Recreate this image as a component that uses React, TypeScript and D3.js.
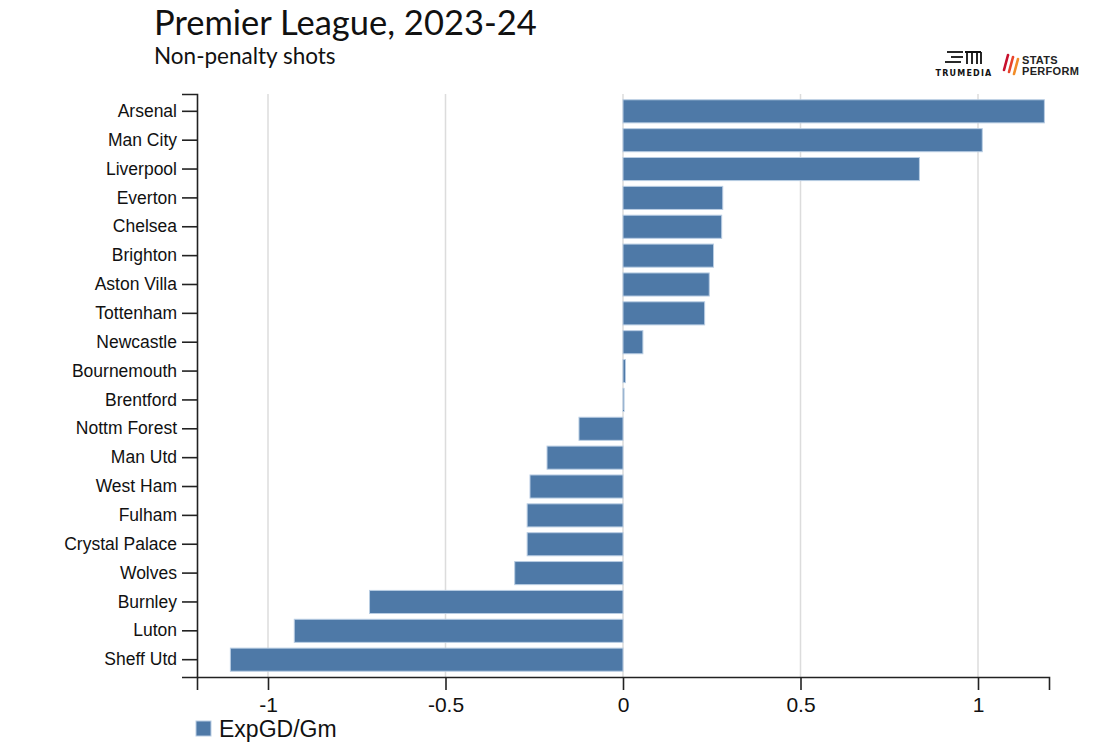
import { useRef, useEffect } from 'react'
import * as d3 from 'd3'

const teams = [
  'Arsenal', 'Man City', 'Liverpool', 'Everton', 'Chelsea', 'Brighton', 'Aston Villa',
  'Tottenham', 'Newcastle', 'Bournemouth', 'Brentford', 'Nottm Forest', 'Man Utd',
  'West Ham', 'Fulham', 'Crystal Palace', 'Wolves', 'Burnley', 'Luton', 'Sheff Utd',
]
const expGD = [
  1.187, 1.012, 0.835, 0.281, 0.278, 0.255, 0.243,
  0.230, 0.056, 0.007, 0.003, -0.124, -0.214,
  -0.262, -0.270, -0.270, -0.305, -0.714, -0.926, -1.106,
]
const xTicks = [-1, -0.5, 0, 0.5, 1]
const xDomain: [number, number] = [-1.2, 1.2]

const BAR = '#4e79a7'
const BAR_EDGE = '#b9cde3'
const SANS = '"Liberation Sans", Arial, sans-serif'

export default function App() {
  const svgRef = useRef<SVGSVGElement | null>(null)

  useEffect(() => {
    if (!svgRef.current) return
    const svg = d3.select(svgRef.current)
    svg.selectAll('*').remove()

    const left = 197, right = 1049, top = 94, bottom = 677
    const x = d3.scaleLinear().domain(xDomain).range([left, right])
    const y = d3.scaleBand<string>().domain(teams).range([top, bottom]).padding(0.2)

    // gridlines
    svg.append('g').selectAll('line').data(xTicks).join('line')
      .attr('x1', d => x(d)).attr('x2', d => x(d))
      .attr('y1', top).attr('y2', bottom)
      .attr('stroke', '#dcdcdc').attr('stroke-width', 1.5)

    // bars
    svg.append('g').selectAll('rect').data(teams).join('rect')
      .attr('x', (_, i) => Math.min(x(0), x(expGD[i])))
      .attr('width', (_, i) => Math.abs(x(expGD[i]) - x(0)))
      .attr('y', d => y(d)!)
      .attr('height', y.bandwidth())
      .attr('fill', BAR).attr('stroke', BAR_EDGE).attr('stroke-width', 1)

    // x axis
    const gx = svg.append('g').attr('transform', `translate(0,${bottom})`)
      .call(d3.axisBottom(x).tickValues(xTicks).tickFormat(d => String(d)).tickSize(13).tickSizeOuter(13).tickPadding(7))
    gx.select('.domain').attr('stroke', '#222').attr('stroke-width', 1.6)
    gx.selectAll('.tick line').attr('stroke', '#222').attr('stroke-width', 1.6)
    gx.selectAll('text').attr('font-family', SANS)
      .attr('font-size', '21px').attr('fill', '#111')

    // y axis
    const gy = svg.append('g').attr('transform', `translate(${left},0)`)
      .call(d3.axisLeft(y).tickSize(15).tickSizeOuter(15).tickPadding(5))
    gy.select('.domain').attr('stroke', '#222').attr('stroke-width', 1.6)
    gy.selectAll('.tick line').attr('stroke', '#222').attr('stroke-width', 1.6)
    gy.selectAll('text').attr('font-family', SANS)
      .attr('font-size', '17.5px').attr('fill', '#111')

    // legend
    const lg = svg.append('g').attr('transform', 'translate(196,721)')
    lg.append('rect').attr('width', 15).attr('height', 15)
      .attr('fill', BAR).attr('stroke', BAR_EDGE).attr('stroke-width', 1)
    lg.append('text').attr('x', 23).attr('y', 15.5)
      .attr('font-family', SANS)
      .attr('font-size', '23px').attr('fill', '#111').text('ExpGD/Gm')

    // titles
    svg.append('text').attr('x', 154).attr('y', 35)
      .attr('font-family', 'Lato, sans-serif').attr('font-size', '34.5px').attr('fill', '#111')
      .text('Premier League, 2023-24')
    svg.append('text').attr('x', 154).attr('y', 64)
      .attr('font-family', 'Lato, sans-serif').attr('font-size', '22.5px').attr('fill', '#111')
      .text('Non-penalty shots')

    // TruMedia logo
    const tm = svg.append('g')
    const bars: [number, number, number][] = [[947, 963, 52], [951, 963, 57], [945, 961, 62]]
    bars.forEach(([a, b, yy]) => tm.append('line').attr('x1', a).attr('x2', b).attr('y1', yy).attr('y2', yy)
      .attr('stroke', '#111').attr('stroke-width', 1.8))
    tm.append('path').attr('d', 'M965,52 H981 M967,52 V64 M972,52 V64 M977,52 V64 M981,52 V64')
      .attr('fill', 'none').attr('stroke', '#111').attr('stroke-width', 1.8)
    tm.append('text').attr('x', 964).attr('y', 76).attr('text-anchor', 'middle')
      .attr('font-family', '"DejaVu Sans", sans-serif').attr('font-weight', 'bold')
      .attr('font-size', '8px').attr('letter-spacing', '1.2px').attr('fill', '#111').text('TRUMEDIA')

    // Stats Perform logo
    const sp = svg.append('g')
    const slashes: [number, string][] = [[1004, '#c8102e'], [1009, '#e8452c'], [1014, '#f28c28']]
    slashes.forEach(([sx, c], i) => sp.append('line')
      .attr('x1', sx + 4).attr('y1', 55 + i * 2).attr('x2', sx).attr('y2', 74 - (2 - i) * 2)
      .attr('stroke', c).attr('stroke-width', 2.6).attr('stroke-linecap', 'round'))
    sp.append('text').attr('x', 1022).attr('y', 63.5)
      .attr('font-family', SANS).attr('font-weight', 'bold')
      .attr('font-size', '11px').attr('letter-spacing', '0.3px').attr('fill', '#222').text('STATS')
    sp.append('text').attr('x', 1022).attr('y', 74.5)
      .attr('font-family', SANS).attr('font-weight', 'bold')
      .attr('font-size', '11px').attr('letter-spacing', '0.3px').attr('fill', '#222').text('PERFORM')
  }, [])

  return (
    <svg ref={svgRef} width={1114} height={743} viewBox="0 0 1114 743"
      style={{ position: 'absolute', left: 0, top: 0, background: '#fff' }} />
  )
}
